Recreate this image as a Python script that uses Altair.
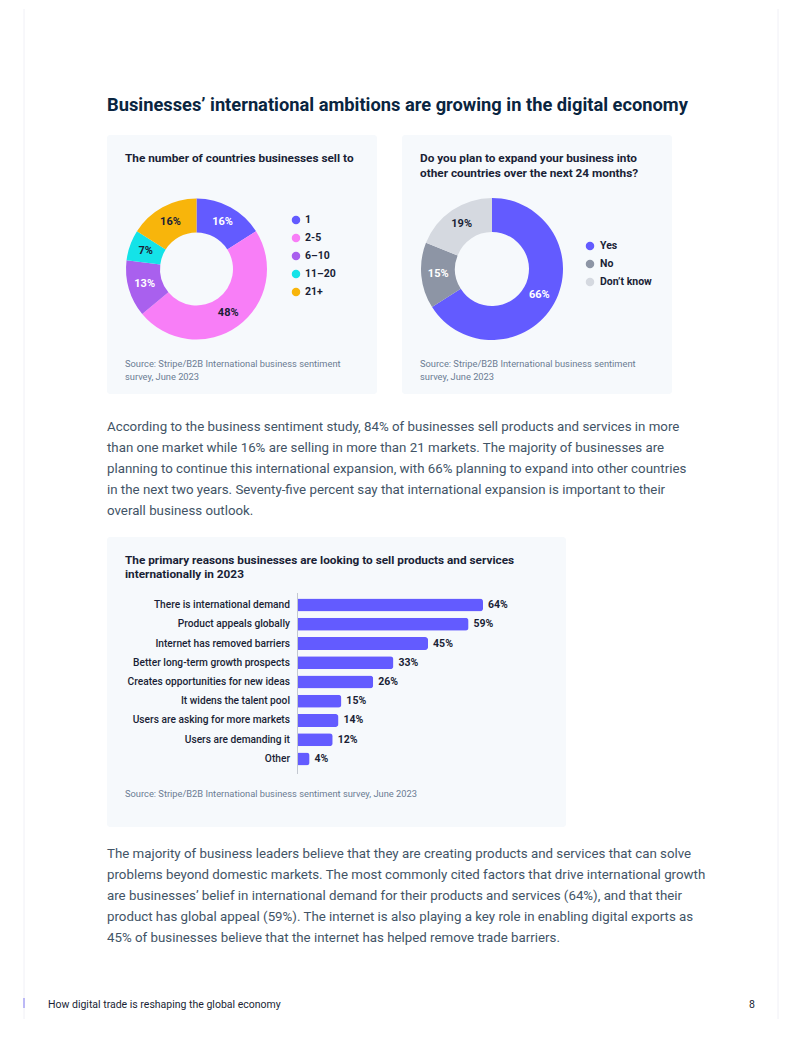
import altair as alt
import pandas as pd

# ---------------- data ----------------
country_cats = ["1", "2-5", "6–10", "11–20", "21+"]
country_pct = [16, 48, 13, 7, 16]

expand_cats = ["Yes", "No", "Don’t know"]
expand_pct = [66, 15, 19]

reasons = [
    "There is international demand",
    "Product appeals globally",
    "Internet has removed barriers",
    "Better long-term growth prospects",
    "Creates opportunities for new ideas",
    "It widens the talent pool",
    "Users are asking for more markets",
    "Users are demanding it",
    "Other",
]
reason_pct = [64, 59, 45, 33, 26, 15, 14, 12, 4]

page_title = "Businesses’ international ambitions are growing in the digital economy"
card1_title = ["The number of countries businesses sell to"]
card2_title = ["Do you plan to expand your business into", "other countries over the next 24 months?"]
card3_title = ["The primary reasons businesses are looking to sell products and services",
               "internationally in 2023"]
source_two = ["Source: Stripe/B2B International business sentiment", "survey, June 2023"]
source_one = ["Source: Stripe/B2B International business sentiment survey, June 2023"]
para1 = [
    "According to the business sentiment study, 84% of businesses sell products and services in more",
    "than one market while 16% are selling in more than 21 markets. The majority of businesses are",
    "planning to continue this international expansion, with 66% planning to expand into other countries",
    "in the next two years. Seventy-five percent say that international expansion is important to their",
    "overall business outlook.",
]
para2 = [
    "The majority of business leaders believe that they are creating products and services that can solve",
    "problems beyond domestic markets. The most commonly cited factors that drive international growth",
    "are businesses’ belief in international demand for their products and services (64%), and that their",
    "product has global appeal (59%). The internet is also playing a key role in enabling digital exports as",
    "45% of businesses believe that the internet has helped remove trade barriers.",
]
footer_text = "How digital trade is reshaping the global economy"
page_number = "8"

# ---------------- styling ----------------
FONT = "Roboto"
NAVY = "#0a2540"
DARK = "#1a1f36"
BODY = "#425466"
GREY = "#6b7c93"
CARD = "#f6f9fc"
BLURPLE = "#635bff"
country_colors = [BLURPLE, "#f87ef7", "#a960ee", "#14e3e8", "#f8b50b"]
country_text = ["white", DARK, "white", DARK, DARK]
expand_colors = [BLURPLE, "#8d95a5", "#d5d9e0"]
expand_text = ["white", "white", DARK]


def P(v):
    # page pixel -> chart pixel (page has an 8px margin)
    return v - 8


one = pd.DataFrame({"k": [0]})


def rect(x0, y0, x1, y1, color):
    return alt.Chart(one).mark_rect(color=color, cornerRadius=3).encode(
        x=alt.value(P(x0)), x2=alt.value(P(x1)), y=alt.value(P(y0)), y2=alt.value(P(y1))
    )


def text(lines, x, y, size, color, weight="normal", lh=None, align="left"):
    t = "\n".join(lines) if isinstance(lines, list) else lines
    kw = dict(font=FONT, fontSize=size, color=color, fontWeight=weight, align=align,
              baseline="alphabetic", lineBreak="\n")
    if lh:
        kw["lineHeight"] = lh
    return alt.Chart(one).mark_text(**kw).encode(
        x=alt.value(P(x)), y=alt.value(P(y)), text=alt.value(t)
    )


layers = []

# faint page guides
layers.append(alt.Chart(one).mark_rule(color="#f0f0f6").encode(
    x=alt.value(P(24)), y=alt.value(0), y2=alt.value(1010)))
layers.append(alt.Chart(one).mark_rule(color="#f0f0f6").encode(
    x=alt.value(P(778)), y=alt.value(0), y2=alt.value(1010)))

# cards
layers.append(rect(107, 134, 377, 393, CARD))
layers.append(rect(402, 134, 672, 393, CARD))
layers.append(rect(107, 536, 566, 826, CARD))

# titles and texts
layers.append(text(page_title, 107, 110, 18.3, NAVY, "bold"))
layers.append(text(card1_title, 125, 161, 11.8, DARK, "bold"))
layers.append(text(card2_title, 420, 161, 11.8, DARK, "bold", lh=14.5))
layers.append(text(source_two, 125, 366, 9.3, GREY, lh=13))
layers.append(text(source_two, 420, 366, 9.3, GREY, lh=13))
layers.append(text(para1, 107, 430, 13.3, BODY, lh=21))
layers.append(text(card3_title, 125, 563, 11.8, DARK, "bold", lh=14.2))
layers.append(text(source_one, 125, 796, 9.3, GREY))
layers.append(text(para2, 107, 857, 13.3, BODY, lh=21))
layers.append(text(footer_text, 48, 1007, 10.5, DARK))
layers.append(text(page_number, 755, 1007, 10.5, DARK, align="right"))
layers.append(alt.Chart(one).mark_rule(color="#a9a4f5", strokeWidth=1.5).encode(
    x=alt.value(P(24)), y=alt.value(P(997)), y2=alt.value(P(1007))))

# ---------------- donut 1 ----------------
d1 = pd.DataFrame({"cat": country_cats, "pct": country_pct,
                   "ord": list(range(len(country_cats))),
                   "lab": [f"{v}%" for v in country_pct]})
cx1, cy1 = P(196.5), P(268)
layers.append(alt.Chart(d1).mark_arc(innerRadius=36.5, outerRadius=70.5).encode(
    theta=alt.Theta("pct:Q", stack=True),
    order=alt.Order("ord:Q"),
    color=alt.Color("cat:N", scale=alt.Scale(domain=country_cats, range=country_colors), legend=None),
    x=alt.value(cx1), y=alt.value(cy1)))
layers.append(alt.Chart(d1).mark_text(radius=54, font=FONT, fontSize=11, fontWeight="bold").encode(
    theta=alt.Theta("pct:Q", stack=True),
    order=alt.Order("ord:Q"),
    text=alt.Text("lab:N"),
    color=alt.Color("cat:N", scale=alt.Scale(domain=country_cats, range=country_text), legend=None),
    x=alt.value(cx1), y=alt.value(cy1)))
leg1_y = alt.Y("cat:N", scale=alt.Scale(type="point", domain=country_cats, range=[P(219), P(291)], padding=0),
               axis=None)
layers.append(alt.Chart(d1).mark_circle(size=72, opacity=1).encode(
    x=alt.value(P(296)), y=leg1_y,
    color=alt.Color("cat:N", scale=alt.Scale(domain=country_cats, range=country_colors), legend=None)))
layers.append(alt.Chart(d1).mark_text(align="left", baseline="middle", font=FONT, fontSize=10.5,
                                      fontWeight="bold", color=DARK).encode(
    x=alt.value(P(305)), y=leg1_y, text="cat:N"))

# ---------------- donut 2 ----------------
d2 = pd.DataFrame({"cat": expand_cats, "pct": expand_pct,
                   "ord": list(range(len(expand_cats))),
                   "lab": [f"{v}%" for v in expand_pct]})
cx2, cy2 = P(492), P(268)
layers.append(alt.Chart(d2).mark_arc(innerRadius=37, outerRadius=71).encode(
    theta=alt.Theta("pct:Q", stack=True),
    order=alt.Order("ord:Q"),
    color=alt.Color("cat:N", scale=alt.Scale(domain=expand_cats, range=expand_colors), legend=None),
    x=alt.value(cx2), y=alt.value(cy2)))
layers.append(alt.Chart(d2).mark_text(radius=54, font=FONT, fontSize=11, fontWeight="bold").encode(
    theta=alt.Theta("pct:Q", stack=True),
    order=alt.Order("ord:Q"),
    text=alt.Text("lab:N"),
    color=alt.Color("cat:N", scale=alt.Scale(domain=expand_cats, range=expand_text), legend=None),
    x=alt.value(cx2), y=alt.value(cy2)))
leg2_y = alt.Y("cat:N", scale=alt.Scale(type="point", domain=expand_cats, range=[P(245), P(281)], padding=0),
               axis=None)
layers.append(alt.Chart(d2).mark_circle(size=72, opacity=1).encode(
    x=alt.value(P(590)), y=leg2_y,
    color=alt.Color("cat:N", scale=alt.Scale(domain=expand_cats, range=expand_colors), legend=None)))
layers.append(alt.Chart(d2).mark_text(align="left", baseline="middle", font=FONT, fontSize=10.5,
                                      fontWeight="bold", color=DARK).encode(
    x=alt.value(P(600)), y=leg2_y, text="cat:N"))

# ---------------- bar chart ----------------
d3 = pd.DataFrame({"reason": reasons, "pct": reason_pct, "lab": [f"{v}%" for v in reason_pct]})
yb = alt.Y("reason:N", sort=None, axis=None,
           scale=alt.Scale(domain=reasons, range=[P(594.4), P(767.6)], paddingInner=0.325, paddingOuter=0.1625))
xb = alt.X("pct:Q", axis=None, scale=alt.Scale(domain=[0, 64], range=[P(298), P(483)]))
layers.append(alt.Chart(one).mark_rule(color="#c3c8d0").encode(
    x=alt.value(P(297.5)), y=alt.value(P(592)), y2=alt.value(P(773))))
layers.append(alt.Chart(d3).mark_bar(color=BLURPLE, cornerRadiusTopRight=3, cornerRadiusBottomRight=3).encode(
    x=xb, y=yb))
layers.append(alt.Chart(d3).mark_text(align="left", baseline="middle", dx=5, font=FONT, fontSize=10.5,
                                      fontWeight="bold", color=DARK).encode(x=xb, y=yb, text="lab:N"))
layers.append(alt.Chart(d3).mark_text(align="right", baseline="middle", font=FONT, fontSize=10.2,
                                      fontWeight=500, color=DARK).encode(
    x=alt.value(P(290)), y=yb, text="reason:N"))

chart = alt.layer(*layers).resolve_scale(
    x="independent", y="independent", color="independent", theta="independent"
).properties(
    width=786, height=1010, padding=0, background="white"
).configure_view(stroke=None)

chart.save("out.html", embed_options={"renderer": "svg", "actions": False})
